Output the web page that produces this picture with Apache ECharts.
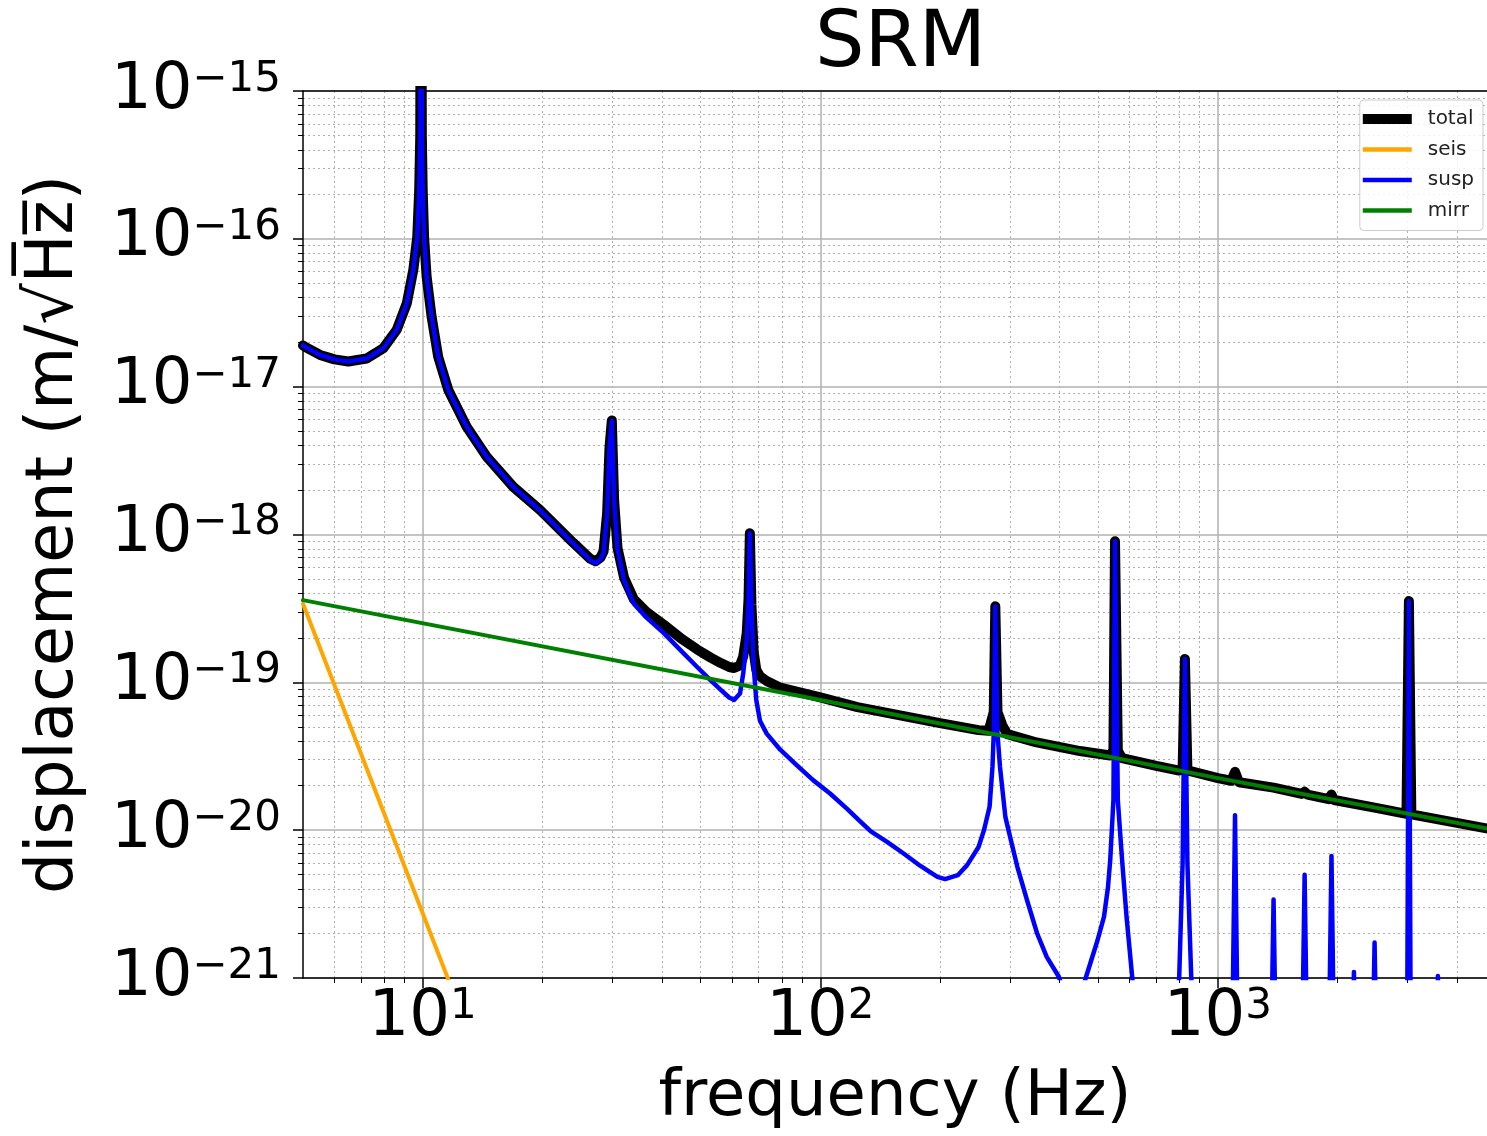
<!DOCTYPE html>
<html>
<head>
<meta charset="utf-8">
<script src="https://cdn.jsdelivr.net/npm/echarts@6/dist/echarts.min.js"></script>
<style>
html,body{margin:0;padding:0;background:#fff;}
#chart{width:1487px;height:1136px;}
</style>
</head>
<body>
<div id="chart"></div>
<script>
// SRM displacement noise [freq Hz, m/rtHz]
var susp = [
  [5, 1.9e-17], [5.06, 1.86e-17], [5.52, 1.64e-17], [6.0, 1.53e-17], [6.5, 1.48e-17],
  [7.23, 1.55e-17], [7.96, 1.82e-17], [8.6, 2.42e-17], [9.12, 3.66e-17], [9.47, 6.15e-17],
  [9.69, 1.03e-16], [9.8, 2.14e-16], [9.86, 5e-16], [9.9, 1e-13], [9.95, 5e-16],
  [10.0, 2.14e-16], [10.08, 1.03e-16], [10.23, 5.55e-17], [10.53, 2.97e-17], [10.94, 1.59e-17],
  [11.6, 9.5e-18], [12.9, 5.35e-18], [14.49, 3.36e-18], [16.9, 2.1e-18], [19.7, 1.46e-18],
  [23.9, 8.7e-19], [26.4, 6.7e-19], [27.2, 6.4e-19], [28.0, 6.8e-19], [28.5, 7.5e-19],
  [29.1, 1.4e-18], [29.5, 3.9e-18], [29.9, 5.9e-18], [30.3, 1.7e-18], [30.9, 7.9e-19],
  [32.1, 4.9e-19], [33.96, 3.4e-19], [36.5, 2.75e-19], [40.4, 2.15e-19], [45, 1.6e-19],
  [49, 1.27e-19], [53, 1.03e-19], [56.2, 8.9e-20], [59, 7.9e-20], [60.7, 7.6e-20],
  [62.8, 8.4e-20], [64.0, 1.15e-19], [65.3, 1.93e-19], [66.0, 3.6e-19], [66.5, 1.02e-18],
  [67.1, 3.2e-19], [68.0, 1.27e-19], [69.0, 7.6e-20], [70.5, 5.5e-20], [73.3, 4.5e-20],
  [79.3, 3.5e-20], [87.2, 2.75e-20], [95.9, 2.18e-20], [105.8, 1.77e-20], [116.6, 1.4e-20],
  [125, 1.17e-20], [134, 9.8e-21], [147.5, 8.3e-21], [162, 6.95e-21], [178.2, 5.75e-21],
  [197, 4.83e-21], [206, 4.67e-21], [221.7, 4.96e-21], [234, 5.8e-21], [250, 7.7e-21],
  [258, 1e-20], [266.5, 1.44e-20], [271, 2.69e-20], [273, 4.5e-20], [275.5, 3.27e-19],
  [279, 4.5e-20], [283, 2.7e-20], [292, 1.23e-20], [303, 8.1e-21], [313, 5.65e-21],
  [331, 3.36e-21], [351, 2e-21], [371, 1.39e-21], [398, 1.02e-21], [430, 5e-22],
  [465, 1e-21], [498, 1.8e-21], [517, 2.6e-21], [529, 4.1e-21], [536, 6.3e-21],
  [546, 1.6e-20], [551, 9e-19], [560, 1.6e-20], [574, 6.3e-21], [589, 2.6e-21],
  [609, 1e-21], [700, 1e-23], [799, 1e-21], [815, 6e-21], [826, 1.44e-19],
  [838, 6e-21], [857, 1e-21], [950, 1e-23], [1080, 1e-22], [1104, 1.26e-20],
  [1128, 1e-22], [1352, 1e-22], [1380, 3.4e-21], [1408, 1e-22], [1618, 1e-22],
  [1652, 5e-21], [1686, 1e-22], [1890, 1e-22], [1930, 6.7e-21], [1970, 1e-22],
  [2160, 1e-22], [2198, 1.1e-21], [2236, 1e-22], [2430, 1e-22], [2477, 1.74e-21],
  [2525, 1e-22], [2985, 1e-22], [3022, 3.55e-19], [3060, 1e-22], [3530, 1e-22],
  [3574, 1.03e-21], [3620, 1e-22], [5000, 1e-23]
];
var total = [
  [5, 1.9e-17], [5.06, 1.86e-17], [5.52, 1.64e-17], [6.0, 1.53e-17], [6.5, 1.48e-17],
  [7.23, 1.55e-17], [7.96, 1.82e-17], [8.6, 2.42e-17], [9.12, 3.66e-17], [9.47, 6.15e-17],
  [9.69, 1.03e-16], [9.8, 2.14e-16], [9.86, 5e-16], [9.9, 1e-13], [9.95, 5e-16],
  [10.0, 2.14e-16], [10.08, 1.03e-16], [10.23, 5.55e-17], [10.53, 2.97e-17], [10.94, 1.59e-17],
  [11.6, 9.5e-18], [12.9, 5.35e-18], [14.49, 3.36e-18], [16.9, 2.1e-18], [19.7, 1.47e-18],
  [23.9, 8.8e-19], [26.4, 6.85e-19], [27.2, 6.6e-19], [28.0, 7e-19], [28.5, 7.7e-19],
  [29.1, 1.4e-18], [29.5, 3.9e-18], [29.9, 5.9e-18], [30.3, 1.7e-18], [30.9, 8.1e-19],
  [32.1, 5.1e-19], [33.96, 3.65e-19], [36.5, 3.0e-19], [40.4, 2.45e-19], [45, 1.95e-19],
  [49, 1.67e-19], [53, 1.47e-19], [56.2, 1.35e-19], [59, 1.27e-19], [60.7, 1.25e-19],
  [62.8, 1.3e-19], [64.0, 1.5e-19], [65.3, 2.15e-19], [66.0, 3.7e-19], [66.5, 1.02e-18],
  [67.1, 3.35e-19], [68.0, 1.6e-19], [69.0, 1.22e-19], [70.5, 1.1e-19], [73.3, 1.02e-19],
  [79.3, 9.2e-20], [100, 7.9e-20], [124, 6.8e-20], [200, 5.3e-20], [250, 4.75e-20],
  [265, 4.7e-20], [273, 6.3e-20], [275.5, 3.27e-19], [279, 6.3e-20], [287, 5.1e-20],
  [295.4, 4.46e-20], [350, 3.92e-20], [450, 3.43e-20], [536, 3.2e-20], [546, 3.48e-20],
  [551, 9e-19], [560, 3.44e-20], [574, 3.07e-20], [700, 2.72e-20], [799, 2.53e-20],
  [815, 2.57e-20], [826, 1.44e-19], [838, 2.54e-20], [1000, 2.25e-20], [1080, 2.16e-20],
  [1104, 2.48e-20], [1130, 2.11e-20], [1380, 1.94e-20], [1625, 1.76e-20], [1652, 1.82e-20],
  [1680, 1.74e-20], [1900, 1.62e-20], [1930, 1.74e-20], [1960, 1.6e-20], [2477, 1.42e-20],
  [2980, 1.29e-20], [3022, 3.55e-19], [3065, 1.28e-20], [5000, 1.0e-20]
];
var mirr = [[5, 3.6e-19], [100, 7.6e-20], [1000, 2.25e-20], [5000, 1.0e-20]];
var seis = [[5, 3.4e-19], [11.56, 1e-21], [14, 2.6e-22]];

var xMajor = [10, 100, 1000];
var xMinor = [6, 7, 8, 9, 20, 30, 40, 50, 60, 70, 80, 90, 200, 300, 400, 500, 600, 700, 800, 900, 2000, 3000, 4000];
var yMajor = [1e-21, 1e-20, 1e-19, 1e-18, 1e-17, 1e-16, 1e-15];
var yMinor = [];
for (var e = -21; e < -15; e++) {
  for (var m = 2; m <= 9; m++) yMinor.push(m * Math.pow(10, e));
}
var X_MIN = 5, X_MAX = 4750, Y_MIN = 1e-21, Y_MAX = 1e-15;

var FONT = 'DejaVu Sans';
var rich = {
  b: {fontSize: 64, lineHeight: 64, padding: [4, 0, 4, 0], fontFamily: FONT, color: '#000'},
  s: {fontSize: 42, lineHeight: 42, verticalAlign: 'top', fontFamily: FONT, color: '#000'}
};
var majorGrid = {show: true, lineStyle: {color: '#b0b0b0', width: 1.5, type: 'solid'}};
var minorGrid = {show: true, lineStyle: {color: '#b0b0b0', width: 1, type: [2, 3]}};
var spine = {show: true, onZero: false, lineStyle: {color: '#000', width: 1.5}};

// axis that only draws a frame edge, above the curves
function spineAxis(type, pos) {
  var lo = type === 'x' ? X_MIN : Y_MIN, hi = type === 'x' ? X_MAX : Y_MAX;
  return {type: 'log', min: lo, max: hi, position: pos, z: 3, axisLine: spine,
          axisTick: {show: false}, axisLabel: {show: false}, splitLine: {show: false}};
}

var chart = echarts.init(document.getElementById('chart'));
chart.setOption({
  animation: false,
  backgroundColor: '#fff',
  title: {
    text: 'SRM', left: 810, top: 2,
    textStyle: {fontFamily: FONT, fontSize: 78, fontWeight: 'normal', color: '#000'}
  },
  legend: {
    orient: 'vertical', right: 4, top: 100,
    padding: [9, 9, 10, 3], itemGap: 10.5, itemWidth: 49, itemHeight: 14,
    backgroundColor: 'rgba(255,255,255,0.85)', borderColor: '#cccccc', borderWidth: 1, borderRadius: 4,
    itemStyle: {borderWidth: 0},
    textStyle: {fontFamily: FONT, fontSize: 20, color: '#222', padding: [0, 0, 0, 11]},
    data: [
      {name: 'total', icon: 'path://M0,0M49,14M0,2H49V12H0Z'},
      {name: 'seis', icon: 'path://M0,0M49,14M0,4.8H49V9.2H0Z'},
      {name: 'susp', icon: 'path://M0,0M49,14M0,4.8H49V9.2H0Z'},
      {name: 'mirr', icon: 'path://M0,0M49,14M0,4.8H49V9.2H0Z'}
    ]
  },
  grid: {left: 303, top: 91, right: 0, height: 887},
  xAxis: [{
    type: 'log', min: X_MIN, max: X_MAX,
    name: 'frequency (Hz)', nameLocation: 'middle', nameGap: 88,
    nameTextStyle: {fontFamily: FONT, fontSize: 64, color: '#000'},
    axisLine: {show: false},
    axisTick: {show: true, customValues: xMajor, length: 10, lineStyle: {color: '#000', width: 1.5}},
    axisLabel: {customValues: xMajor, margin: 8, rich: rich,
      formatter: function (v) { return '{b|10}{s|' + Math.round(Math.log10(v)) + '}'; }},
    splitLine: majorGrid
  }, {
    type: 'log', min: X_MIN, max: X_MAX, position: 'bottom',
    axisLine: {show: false},
    axisTick: {show: true, customValues: xMinor, length: 5, lineStyle: {color: '#000', width: 1}},
    axisLabel: {show: false},
    splitLine: minorGrid
  }, spineAxis('x', 'bottom'), spineAxis('x', 'top')],
  yAxis: [{
    type: 'log', min: Y_MIN, max: Y_MAX,
    name: 'displacement (m/\u221AH\u0305z\u0305)', nameLocation: 'middle', nameGap: 215,
    nameTextStyle: {fontFamily: FONT, fontSize: 65, color: '#000'},
    axisLine: {show: false},
    axisTick: {show: true, customValues: yMajor, length: 10, lineStyle: {color: '#000', width: 1.5}},
    axisLabel: {customValues: yMajor, margin: 22, rich: rich,
      formatter: function (v) { return '{b|10}{s|\u2212' + (-Math.round(Math.log10(v))) + '}'; }},
    splitLine: majorGrid
  }, {
    type: 'log', min: Y_MIN, max: Y_MAX, position: 'left',
    axisLine: {show: false},
    axisTick: {show: true, customValues: yMinor, length: 5, lineStyle: {color: '#000', width: 1}},
    axisLabel: {show: false},
    splitLine: minorGrid
  }, spineAxis('y', 'left')],
  series: [
    {name: 'total', type: 'line', data: total, showSymbol: false, symbol: 'none',
     color: '#000', lineStyle: {color: '#000', width: 10, cap: 'round', join: 'round'}},
    {name: 'seis', type: 'line', data: seis, showSymbol: false, symbol: 'none',
     color: '#ffa500', lineStyle: {color: '#ffa500', width: 4, cap: 'round', join: 'round'}},
    {name: 'susp', type: 'line', data: susp, showSymbol: false, symbol: 'none',
     color: '#0000ff', lineStyle: {color: '#0000ff', width: 4.5, cap: 'round', join: 'round'}},
    {name: 'mirr', type: 'line', data: mirr, showSymbol: false, symbol: 'none',
     color: '#008000', lineStyle: {color: '#008000', width: 4, cap: 'round', join: 'round'}}
  ]
});
</script>
</body>
</html>
